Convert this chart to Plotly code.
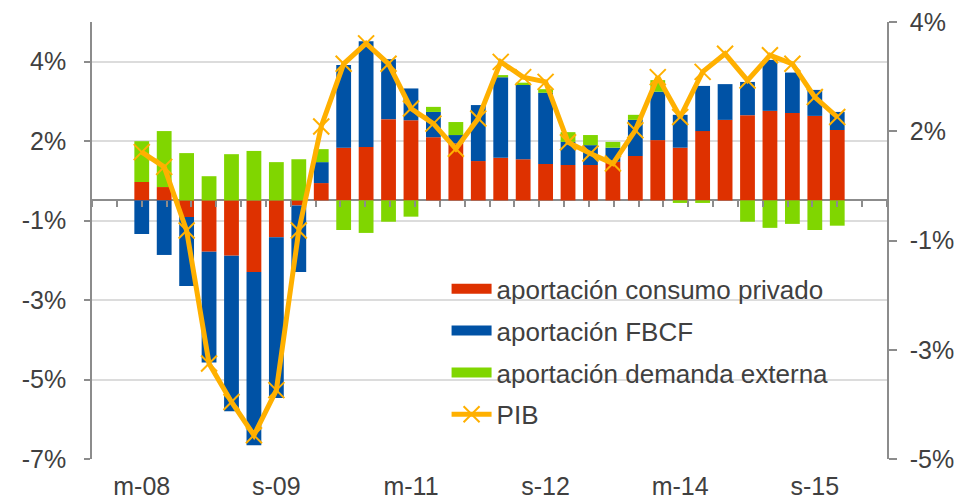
import plotly.graph_objects as go

# ---------------- data ----------------
quarters = []
for yr in range(8, 16):
    for m in ["m", "j", "s", "d"]:
        quarters.append(f"{m}-{yr:02d}")

consumo_privado = [0.51, 0.37, -0.46, -1.42, -1.53, -1.98, -1.02, -0.14,
                   0.48, 1.46, 1.48, 2.25, 2.22, 1.75, 1.58, 1.09,
                   1.18, 1.14, 1.01, 0.98, 0.98, 1.07, 1.23, 1.67,
                   1.46, 1.92, 2.23, 2.36, 2.48, 2.42, 2.34, 1.95]
fbcf = [-0.93, -1.51, -1.91, -3.07, -4.31, -4.80, -4.45, -1.84,
        0.58, 2.29, 2.93, 1.66, 0.88, 0.70, 0.23, 1.55,
        2.23, 2.08, 1.97, 0.64, 0.55, 0.39, 1.00, 1.34,
        0.91, 1.25, 0.99, 0.92, 1.41, 1.12, 0.72, 0.50]
demanda_externa = [1.13, 1.55, 1.31, 0.67, 1.28, 1.37, 1.06, 1.14,
                   0.36, -0.82, -0.90, -0.59, -0.45, 0.14, 0.36, 0.00,
                   0.06, 0.04, 0.10, 0.27, 0.28, 0.16, 0.14, 0.32,
                   -0.07, -0.07, 0.00, -0.59, -0.76, -0.65, -0.82, -0.70]
pib = [1.26, 0.95, -0.39, -3.19, -4.00, -4.70, -3.75, -0.39,
       1.80, 3.12, 3.55, 3.12, 2.18, 1.86, 1.33, 1.97,
       3.16, 2.84, 2.74, 1.47, 1.23, 1.02, 1.72, 2.84,
       2.00, 2.95, 3.33, 2.77, 3.30, 3.12, 2.42, 2.00]

x_tick_labels = ["m-08", "s-09", "m-11", "s-12", "m-14", "s-15"]

left_min, left_step, left_max = -7.16, 2.2, 4.94
left_tick_labels = ["-7%", "-5%", "-3%", "-1%", "2%", "4%"]
right_min, right_step = -5.2, 2.3
right_tick_labels = ["-5%", "-3%", "-1%", "2%", "4%"]

series_names = ["aportación consumo privado", "aportación FBCF",
                "aportación demanda externa"]

# ---------------- style ----------------
RED = "#DE3100"
BLUE = "#0052A5"
GREEN = "#80D600"
ORANGE = "#FFB000"
TXT = "#404040"
AXIS = "#8C8C8C"
GRID = "#DCDCDC"
FONT = "Liberation Sans, Arial, sans-serif"

fig = go.Figure()
for name, vals, col in zip(series_names, [consumo_privado, fbcf, demanda_externa],
                           [RED, BLUE, GREEN]):
    fig.add_trace(go.Bar(x=quarters, y=vals, name=name, marker=dict(color=col, line=dict(width=0)),
                         showlegend=False, xaxis="x", yaxis="y"))

# legend swatches (wide rectangles like the original)
for i, (name, col) in enumerate(zip(series_names, [RED, BLUE, GREEN])):
    fig.add_trace(go.Scatter(x=[None], y=[None], mode="lines", name=name,
                             line=dict(color=col, width=14), legendgroup=f"g{i}",
                             hoverinfo="skip"))

fig.add_trace(go.Scatter(x=quarters, y=pib, name="PIB", mode="lines+markers",
                         line=dict(color=ORANGE, width=5),
                         marker=dict(symbol="x-thin-open", size=16,
                                     line=dict(color="#F0A000", width=2)),
                         xaxis="x", yaxis="y2", legendgroup="g3"))

# helper trace for boundary tick axis
n = len(quarters)
fig.add_trace(go.Scatter(x=list(range(n)), y=[None] * n, xaxis="x2", yaxis="y",
                         showlegend=False, hoverinfo="skip"))

zero_pos = (0 - left_min) / (left_max - left_min)
right_max = right_min + right_step * (len(right_tick_labels) - 1)

fig.update_layout(
    width=958, height=501,
    margin=dict(l=92, r=71, t=22, b=42, autoexpand=False),
    paper_bgcolor="white", plot_bgcolor="white",
    barmode="relative", bargap=0.34,
    font=dict(family=FONT, size=25, color=TXT),
    showlegend=True,
    legend=dict(x=0.446, y=0.443, xanchor="left", yanchor="top",
                bgcolor="rgba(0,0,0,0)", font=dict(size=26, color=TXT),
                tracegroupgap=5, itemwidth=40, traceorder="grouped"),
    xaxis=dict(type="category", categoryorder="array", categoryarray=quarters,
               tickmode="array", tickvals=x_tick_labels, ticktext=x_tick_labels,
               showgrid=False, showline=False, ticks="", zeroline=False,
               automargin=False,
               ticklabelstandoff=10, tickfont=dict(size=25, color=TXT)),
    xaxis2=dict(overlaying="x", anchor="free", position=zero_pos, side="bottom",
                range=[-0.5, n - 0.5], tick0=0.5, dtick=1, ticks="outside",
                ticklen=6, tickwidth=1.5, tickcolor=AXIS, showticklabels=False,
                showgrid=False, showline=False, zeroline=False, automargin=False),
    yaxis=dict(range=[left_min, left_max], tickmode="array",
               tickvals=[left_min + k * left_step for k in range(len(left_tick_labels))],
               ticktext=left_tick_labels, showgrid=True, gridcolor=GRID, gridwidth=1.5,
               zeroline=True, zerolinecolor=AXIS, zerolinewidth=1.5,
               showline=True, linecolor=AXIS, linewidth=1.5,
               ticks="outside", ticklen=6, tickcolor=AXIS, tickwidth=1.5,
               automargin=False,
               ticklabelstandoff=13, tickfont=dict(size=25, color=TXT)),
    yaxis2=dict(range=[right_min, right_max], overlaying="y", side="right",
                tickmode="array",
                tickvals=[right_min + k * right_step for k in range(len(right_tick_labels))],
                ticktext=right_tick_labels, showgrid=False, zeroline=False,
                showline=True, linecolor=AXIS, linewidth=1.5,
                ticks="outside", ticklen=8, tickcolor=AXIS, tickwidth=1.5,
                automargin=False,
                ticklabelstandoff=8, tickfont=dict(size=25, color=TXT)),
)

fig.write_html("out.html", config={"displayModeBar": False},
               post_script="document.body.style.margin='0';")
